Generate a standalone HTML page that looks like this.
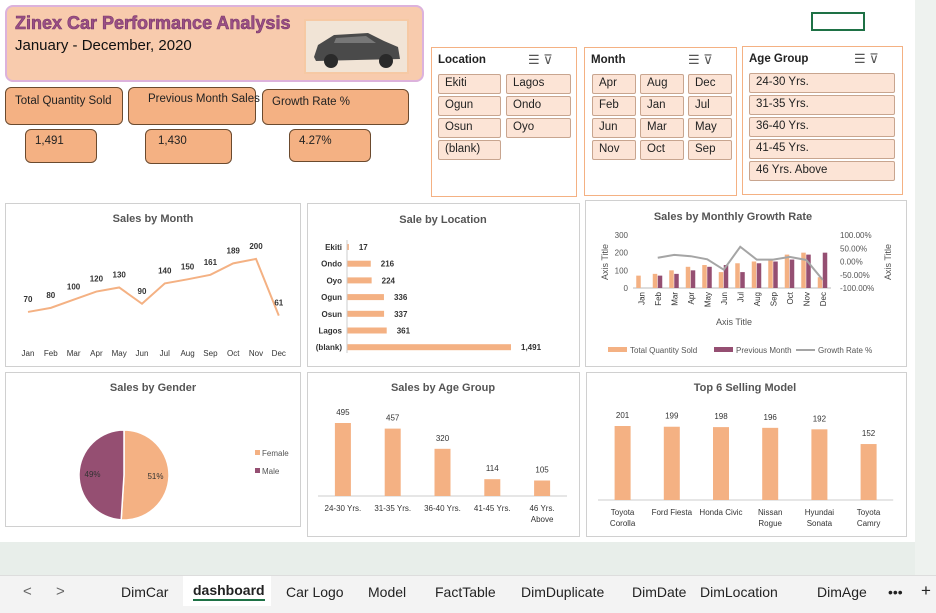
<!DOCTYPE html>
<html><head><meta charset="utf-8"><style>
body{margin:0;width:936px;height:613px;overflow:hidden;background:#fff;font-family:"Liberation Sans",Calibri,sans-serif;position:relative}
.abs{position:absolute;box-sizing:border-box}
.card{position:absolute;border:1px solid #d0d0d0;background:#fff;box-sizing:border-box}
.kpi{position:absolute;background:#F4B183;border:1px solid #6b4a2e;border-radius:6px;font-size:11.5px;color:#222;box-sizing:border-box;white-space:nowrap}
.slicer{position:absolute;border:1px solid #F4B183;background:#fff;box-sizing:border-box}
.sh{position:absolute;left:6px;top:6px;font-size:11.5px;font-weight:bold;color:#222}
.item{position:absolute;background:#FCE4D6;border:1px solid #c8a58f;border-radius:2px;font-size:11.5px;color:#222;box-sizing:border-box;padding:2px 6px;height:20px}
.tab{position:absolute;top:584px;font-size:14px;color:#222}
svg text{font-family:"Liberation Sans",Calibri,sans-serif}
</style></head><body>
<div class="abs" style="left:0;top:542px;width:936px;height:36px;background:#e8eeea"></div>
<div class="abs" style="left:915px;top:0;width:21px;height:578px;background:#eef2ef"></div>
<div class="abs" style="left:0;top:575px;width:936px;height:38px;background:#f3f3f3;border-top:1px solid #ddd"></div>
<div class="abs" style="left:811px;top:12px;width:54px;height:19px;border:2px solid #1e7145"></div>

<div class="abs" style="left:5px;top:5px;width:419px;height:77px;background:#F8CBAD;border:2px solid #dcb2dc;border-radius:8px"></div>
<div class="abs" style="left:15px;top:13px;font-size:18px;font-weight:bold;color:#9b4f86;-webkit-text-stroke:0.6px #7a3a6a;white-space:nowrap">Zinex Car Performance Analysis</div>
<div class="abs" style="left:15px;top:37px;font-size:15px;color:#111">January - December, 2020</div>
<div class="abs" style="left:304px;top:19px;width:105px;height:55px;background:#f1e4d6;border:2px solid #f6c9a4">
<svg width="101" height="51"><path d="M8 36 L12 24 L28 14 L62 12 L78 20 L92 26 L94 38 L10 40 Z" fill="#4a4a4a"/><circle cx="25" cy="40" r="7" fill="#2a2a2a"/><circle cx="80" cy="40" r="7" fill="#2a2a2a"/><path d="M30 17 L60 15 L70 22 L28 22Z" fill="#777"/></svg></div>

<div class="kpi" style="left:5px;top:87px;width:118px;height:38px;padding:7px 9px">Total Quantity Sold</div>
<div class="kpi" style="left:128px;top:87px;width:128px;height:38px;padding:5px 19px">Previous Month Sales</div>
<div class="kpi" style="left:262px;top:89px;width:147px;height:36px;padding:6px 9px">Growth Rate %</div>
<div class="kpi" style="left:25px;top:129px;width:72px;height:34px;padding:5px 9px">1,491</div>
<div class="kpi" style="left:145px;top:129px;width:87px;height:35px;padding:5px 12px">1,430</div>
<div class="kpi" style="left:289px;top:129px;width:82px;height:33px;padding:5px 9px">4.27%</div>

<div class="slicer" style="left:431px;top:47px;width:146px;height:150px">
<div class="sh">Location</div>
<div class="abs" style="left:96px;top:4px;font-size:13px;color:#555">☰ ⊽</div>
<div class="item" style="left:6px;top:26px;width:63px">Ekiti</div>
<div class="item" style="left:74px;top:26px;width:65px">Lagos</div>
<div class="item" style="left:6px;top:48px;width:63px">Ogun</div>
<div class="item" style="left:74px;top:48px;width:65px">Ondo</div>
<div class="item" style="left:6px;top:70px;width:63px">Osun</div>
<div class="item" style="left:74px;top:70px;width:65px">Oyo</div>
<div class="item" style="left:6px;top:92px;width:63px">(blank)</div>
</div>
<div class="slicer" style="left:584px;top:47px;width:153px;height:149px">
<div class="sh">Month</div>
<div class="abs" style="left:103px;top:4px;font-size:13px;color:#555">☰ ⊽</div>
<div class="item" style="left:7px;top:26px;width:44px">Apr</div>
<div class="item" style="left:55px;top:26px;width:44px">Aug</div>
<div class="item" style="left:103px;top:26px;width:44px">Dec</div>
<div class="item" style="left:7px;top:48px;width:44px">Feb</div>
<div class="item" style="left:55px;top:48px;width:44px">Jan</div>
<div class="item" style="left:103px;top:48px;width:44px">Jul</div>
<div class="item" style="left:7px;top:70px;width:44px">Jun</div>
<div class="item" style="left:55px;top:70px;width:44px">Mar</div>
<div class="item" style="left:103px;top:70px;width:44px">May</div>
<div class="item" style="left:7px;top:92px;width:44px">Nov</div>
<div class="item" style="left:55px;top:92px;width:44px">Oct</div>
<div class="item" style="left:103px;top:92px;width:44px">Sep</div>
</div>
<div class="slicer" style="left:742px;top:46px;width:161px;height:149px">
<div class="sh">Age Group</div>
<div class="abs" style="left:111px;top:4px;font-size:13px;color:#555">☰ ⊽</div>
<div class="item" style="left:6px;top:26px;width:146px">24-30 Yrs.</div>
<div class="item" style="left:6px;top:48px;width:146px">31-35 Yrs.</div>
<div class="item" style="left:6px;top:70px;width:146px">36-40 Yrs.</div>
<div class="item" style="left:6px;top:92px;width:146px">41-45 Yrs.</div>
<div class="item" style="left:6px;top:114px;width:146px">46 Yrs. Above</div>
</div>

<div class="card" style="left:5px;top:203px;width:296px;height:164px"></div>
<div class="card" style="left:307px;top:203px;width:273px;height:164px"></div>
<div class="card" style="left:585px;top:200px;width:322px;height:167px"></div>
<div class="card" style="left:5px;top:372px;width:296px;height:155px"></div>
<div class="card" style="left:307px;top:372px;width:273px;height:165px"></div>
<div class="card" style="left:586px;top:372px;width:321px;height:165px"></div>

<svg id="charts" class="abs" style="left:0;top:0" width="936" height="613"></svg>

<div class="abs" style="left:23px;top:583px;font-size:15px;color:#666">&lt;</div>
<div class="abs" style="left:56px;top:583px;font-size:15px;color:#666">&gt;</div>
<div class="tab" style="left:121px">DimCar</div>
<div class="abs" style="left:183px;top:576px;width:88px;height:30px;background:#fff"></div>
<div class="tab" style="left:193px;top:582px;font-weight:bold;border-bottom:2px solid #1e7145;padding-bottom:1px">dashboard</div>
<div class="tab" style="left:286px">Car Logo</div>
<div class="tab" style="left:368px">Model</div>
<div class="tab" style="left:435px">FactTable</div>
<div class="tab" style="left:521px">DimDuplicate</div>
<div class="tab" style="left:632px">DimDate</div>
<div class="tab" style="left:700px">DimLocation</div>
<div class="tab" style="left:817px">DimAge</div>
<div class="tab" style="left:888px">•••</div>
<div class="tab" style="left:921px;top:581px;font-size:17px">+</div>

<script>
const months=["Jan","Feb","Mar","Apr","May","Jun","Jul","Aug","Sep","Oct","Nov","Dec"];
const monthSales=[70,80,100,120,130,90,140,150,161,189,200,61];
const prevMonth=[null,70,80,100,120,130,90,140,150,161,189,200];
const growthRate=[null,14.3,25,20,8.3,-30.8,55.6,7.1,7.3,17.4,5.8,-69.5];
const locations=["Ekiti","Ondo","Oyo","Ogun","Osun","Lagos","(blank)"];
const locationValues=[17,216,224,336,337,361,1491];
const genders=["Female","Male"];
const genderShares=[51,49];
const ageGroups=[["24-30 Yrs."],["31-35 Yrs."],["36-40 Yrs."],["41-45 Yrs."],["46 Yrs.","Above"]];
const ageValues=[495,457,320,114,105];
const models=[["Toyota","Corolla"],["Ford Fiesta"],["Honda Civic"],["Nissan","Rogue"],["Hyundai","Sonata"],["Toyota","Camry"]];
const modelValues=[201,199,198,196,192,152];

const NS="http://www.w3.org/2000/svg",S=document.getElementById('charts');
const PEACH="#F4B183",PURP="#954F72";
function el(tag,a,txt){const e=document.createElementNS(NS,tag);for(const k in a)e.setAttribute(k,a[k]);if(txt!=null)e.textContent=txt;S.appendChild(e);return e;}
function T(x,y,s,o){o=o||{};return el('text',Object.assign({x:x,y:y,'font-size':o.fs||9,fill:o.fill||'#333','text-anchor':o.a||'middle','font-weight':o.w||'normal'},o.extra||{}),s);}

let t;
t=T(153,222,"Sales by Month",{fs:11,w:'bold',fill:'#555'});
t=T(443,223,"Sale by Location",{fs:11,w:'bold',fill:'#555'});
t=T(733,220,"Sales by Monthly Growth Rate",{fs:11,w:'bold',fill:'#555'});
t=T(153,391,"Sales by Gender",{fs:11,w:'bold',fill:'#555'});
t=T(443,391,"Sales by Age Group",{fs:11,w:'bold',fill:'#555'});
t=T(745,391,"Top 6 Selling Model",{fs:11,w:'bold',fill:'#555'});

const mx=i=>28+i*22.8, my=v=>340.5-v*0.408;
let d=monthSales.map((v,i)=>(i?'L':'M')+mx(i)+' '+my(v)).join(' ');
let p=el('path',{d:d,fill:'none',stroke:PEACH,'stroke-width':2});

monthSales.forEach((v,i)=>{let l=T(mx(i),my(v)-10,v,{fs:8,w:'bold'});
 let x=T(mx(i),356,months[i],{fs:8});});

const lx0=347,lk=164/1491,ly=i=>247+i*16.7;
locations.forEach((c,i)=>{let r=el('rect',{x:lx0,y:ly(i)-3,width:locationValues[i]*lk,height:6,fill:PEACH});
 
 let a=T(342,ly(i)+3,c,{fs:8,a:'end',w:'bold'});
 let b=T(lx0+locationValues[i]*lk+10,ly(i)+3,locationValues[i].toLocaleString('en-US'),{fs:8,a:'start',w:'bold'});});
let ax=el('line',{x1:lx0,y1:240,x2:lx0,y2:353,stroke:'#ccc'});

const gx0=633,gw=16.5,gy=v=>288-v*(53/300),gr=v=>261.5-v*(53/200);
[0,100,200,300].forEach(v=>{let k=T(628,gy(v)+3,v,{fs:8,a:'end',fill:'#555'});});
[100,50,0,-50,-100].forEach(v=>{let k=T(840,gr(v)+3,v.toFixed(2)+'%',{fs:8,a:'start',fill:'#555'});});
let ba=el('line',{x1:gx0,y1:288,x2:gx0+12*gw,y2:288,stroke:'#bbb'});
months.forEach((m,i)=>{const cx=gx0+i*gw+gw/2;
 let r1=el('rect',{x:cx-5,y:gy(monthSales[i]),width:4.5,height:monthSales[i]*(53/300),fill:PEACH});
 if(prevMonth[i]!=null){let r2=el('rect',{x:cx,y:gy(prevMonth[i]),width:4.5,height:prevMonth[i]*(53/300),fill:PURP});}
 let lb=el('text',{x:0,y:0,'font-size':8,fill:'#333','text-anchor':'end',transform:`translate(${cx+3},292) rotate(-90)`},m);});
let gd='';growthRate.forEach((v,i)=>{if(v==null)return;gd+=(gd?'L':'M')+(gx0+i*gw+gw/2)+' '+gr(v)+' ';});
let gl=el('path',{d:gd,fill:'none',stroke:'#a5a5a5','stroke-width':2});
let at=T(734,325,"Axis Title",{fs:9,fill:'#555'});
let a1=el('text',{x:0,y:0,'font-size':9,fill:'#555','text-anchor':'middle',transform:'translate(608,262) rotate(-90)'},"Axis Title");
let a2=el('text',{x:0,y:0,'font-size':9,fill:'#555','text-anchor':'middle',transform:'translate(891,262) rotate(-90)'},"Axis Title");
[[608,PEACH,"Total Quantity Sold",'rect'],[714,PURP,"Previous Month",'rect'],[796,'#a5a5a5',"Growth Rate %",'line']].forEach(([x,c,s,k])=>{
 let m=k=='rect'?el('rect',{x:x,y:347,width:19,height:5,fill:c}):el('line',{x1:x,y1:350,x2:x+19,y2:350,stroke:c,'stroke-width':2});
 
 let lt=T(x+22,353,s,{fs:8,a:'start',fill:'#555'});});

const pcx=124,pcy=475,pr=45;let ang=-Math.PI/2;const tot=genderShares.reduce((a,b)=>a+b,0);
const pc=[PEACH,PURP];
genderShares.forEach((v,i)=>{const a2=ang+v/tot*2*Math.PI;const large=(a2-ang)>Math.PI?1:0;
 let s=el('path',{d:`M${pcx} ${pcy} L${pcx+pr*Math.cos(ang)} ${pcy+pr*Math.sin(ang)} A${pr} ${pr} 0 ${large} 1 ${pcx+pr*Math.cos(a2)} ${pcy+pr*Math.sin(a2)} Z`,fill:pc[i],stroke:'#fff','stroke-width':1.5});
 
 const m=(ang+a2)/2;let l=T(pcx+pr*0.7*Math.cos(m),pcy+pr*0.7*Math.sin(m)+3,v+'%',{fs:8});
 let lm=el('rect',{x:255,y:450+i*18,width:5,height:5,fill:pc[i]});
 let lt=T(262,456+i*18,genders[i],{fs:8,a:'start',fill:'#555'});
 ang=a2;});

const ax0=318,aw=49.8,ak=73/495;
let ab=el('line',{x1:ax0,y1:496,x2:ax0+5*aw,y2:496,stroke:'#ccc'});
ageValues.forEach((v,i)=>{const cx=ax0+i*aw+aw/2;
 let r=el('rect',{x:cx-8,y:496-v*ak,width:16,height:v*ak,fill:PEACH});
 let l=T(cx,496-v*ak-8,v,{fs:8});
 ageGroups[i].forEach((s,j)=>{let c=T(cx,511+j*11,s,{fs:8});});});

const tx0=598,tw=49.2,tk=74/201;
let tb=el('line',{x1:tx0,y1:500,x2:tx0+6*tw,y2:500,stroke:'#ccc'});
modelValues.forEach((v,i)=>{const cx=tx0+i*tw+tw/2;
 let r=el('rect',{x:cx-8,y:500-v*tk,width:16,height:v*tk,fill:PEACH});
 let l=T(cx,500-v*tk-8,v,{fs:8});
 models[i].forEach((s,j)=>{let c=T(cx,515+j*11,s,{fs:8});});});
</script>
</body></html>
